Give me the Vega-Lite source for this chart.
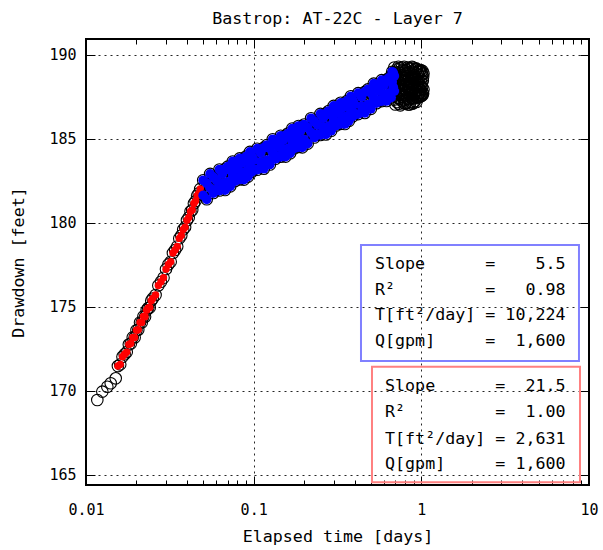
{
 "$schema": "https://vega.github.io/schema/vega-lite/v6.json",
 "width": 503, "height": 446,
 "autosize": {"type": "none"},
 "padding": {"left": 86, "top": 39, "right": 14, "bottom": 65},
 "background": "white",
 "title": {"text": "Bastrop: AT-22C - Layer 7", "font": "DejaVu Sans Mono", "fontSize": 16.67, "fontWeight": "normal", "color": "#000", "anchor": "middle", "baseline": "alphabetic", "offset": -2},
 "config": {
  "view": {"stroke": "#000", "strokeWidth": 2},
  "font": "DejaVu Sans Mono",
  "axis": {"labelFont": "DejaVu Sans Mono", "titleFont": "DejaVu Sans Mono", "labelColor": "#000", "titleColor": "#000", "titleFontWeight": "normal", "tickColor": "#000", "tickWidth": 1, "domain": false, "gridColor": "#000", "gridDash": [2, 4], "gridWidth": 1, "gridOpacity": 0.85, "labelFontSize": 15, "titleFontSize": 16.67, "labelFlush": false, "labelOverlap": false}
 },
 "datasets": {
  "pts": [
   {"t":0.01168,"d":169.46,"g":"o"},{"t":0.01251,"d":169.96,"g":"o"},{"t":0.0134,"d":170.25,"g":"o"},{"t":0.01404,"d":170.46,"g":"o"},{"t":0.01504,"d":170.75,"g":"o"},
   {"t":0.0155,"d":171.48,"g":"e"},{"t":0.016,"d":171.58,"g":"e"},{"t":0.0165,"d":172.03,"g":"e"},{"t":0.017,"d":172.18,"g":"e"},{"t":0.0175,"d":172.31,"g":"e"},
   {"t":0.018,"d":172.76,"g":"e"},{"t":0.0185,"d":172.82,"g":"e"},{"t":0.019,"d":173.19,"g":"e"},{"t":0.0195,"d":173.18,"g":"e"},{"t":0.02,"d":173.61,"g":"e"},
   {"t":0.0205,"d":173.64,"g":"e"},{"t":0.021,"d":174.07,"g":"e"},{"t":0.0215,"d":174.07,"g":"e"},{"t":0.022,"d":174.44,"g":"e"},{"t":0.0225,"d":174.42,"g":"e"},
   {"t":0.023,"d":174.81,"g":"e"},{"t":0.0235,"d":174.94,"g":"e"},{"t":0.024,"d":174.97,"g":"e"},{"t":0.0245,"d":175.37,"g":"e"},{"t":0.025,"d":175.5,"g":"e"},
   {"t":0.026,"d":175.71,"g":"e"},{"t":0.027,"d":176.28,"g":"e"},{"t":0.028,"d":176.5,"g":"e"},{"t":0.029,"d":176.74,"g":"e"},{"t":0.03,"d":177.25,"g":"e"},
   {"t":0.031,"d":177.53,"g":"e"},{"t":0.032,"d":177.69,"g":"e"},{"t":0.033,"d":178.21,"g":"e"},{"t":0.034,"d":178.39,"g":"e"},{"t":0.035,"d":178.6,"g":"e"},
   {"t":0.036,"d":179.08,"g":"e"},{"t":0.037,"d":179.25,"g":"e"},{"t":0.038,"d":179.61,"g":"e"},{"t":0.039,"d":179.75,"g":"e"},{"t":0.04,"d":180.16,"g":"e"},
   {"t":0.041,"d":180.32,"g":"e"},{"t":0.042,"d":180.68,"g":"e"},{"t":0.043,"d":180.77,"g":"e"},{"t":0.044,"d":181.16,"g":"e"},{"t":0.045,"d":181.3,"g":"e"},
   {"t":0.046,"d":181.62,"g":"e"},{"t":0.047,"d":181.76,"g":"e"},{"t":0.048,"d":182.03,"g":"e"},
   {"t":0.05,"d":182.54,"g":"l"},{"t":0.05,"d":181.64,"g":"l"},{"t":0.0525,"d":182.36,"g":"l"},{"t":0.0525,"d":181.41,"g":"l"},
   {"t":0.055,"d":182.92,"g":"l"},{"t":0.055,"d":182.07,"g":"l"},{"t":0.0575,"d":182.73,"g":"l"},{"t":0.0575,"d":181.78,"g":"l"},
   {"t":0.06,"d":182.53,"g":"l"},{"t":0.06,"d":181.98,"g":"l"},{"t":0.0625,"d":183.18,"g":"l"},{"t":0.0625,"d":181.93,"g":"l"},
   {"t":0.065,"d":182.92,"g":"l"},{"t":0.065,"d":182.37,"g":"l"},{"t":0.0675,"d":183.21,"g":"l"},{"t":0.0675,"d":181.96,"g":"l"},
   {"t":0.07,"d":183.35,"g":"l"},{"t":0.07,"d":182.45,"g":"l"},{"t":0.0725,"d":183.13,"g":"l"},{"t":0.0725,"d":182.18,"g":"l"},
   {"t":0.075,"d":183.66,"g":"l"},{"t":0.075,"d":182.81,"g":"l"},{"t":0.0775,"d":183.44,"g":"l"},{"t":0.0775,"d":182.49,"g":"l"},
   {"t":0.08,"d":183.22,"g":"l"},{"t":0.08,"d":182.67,"g":"l"},{"t":0.0825,"d":183.84,"g":"l"},{"t":0.0825,"d":182.59,"g":"l"},
   {"t":0.085,"d":183.56,"g":"l"},{"t":0.085,"d":183.01,"g":"l"},{"t":0.0875,"d":183.83,"g":"l"},{"t":0.0875,"d":182.58,"g":"l"},
   {"t":0.09,"d":183.95,"g":"l"},{"t":0.09,"d":183.05,"g":"l"},{"t":0.0925,"d":183.71,"g":"l"},{"t":0.0925,"d":182.76,"g":"l"},
   {"t":0.095,"d":184.23,"g":"l"},{"t":0.095,"d":183.38,"g":"l"},{"t":0.0975,"d":183.99,"g":"l"},{"t":0.0975,"d":183.04,"g":"l"},
   {"t":0.1,"d":183.75,"g":"l"},{"t":0.1,"d":183.2,"g":"l"},{"t":0.105,"d":184.42,"g":"l"},{"t":0.105,"d":183.17,"g":"l"},
   {"t":0.11,"d":184.18,"g":"l"},{"t":0.11,"d":183.63,"g":"l"},{"t":0.115,"d":184.48,"g":"l"},{"t":0.115,"d":183.23,"g":"l"},
   {"t":0.12,"d":184.64,"g":"l"},{"t":0.12,"d":183.74,"g":"l"},{"t":0.125,"d":184.43,"g":"l"},{"t":0.125,"d":183.48,"g":"l"},
   {"t":0.13,"d":184.98,"g":"l"},{"t":0.13,"d":184.13,"g":"l"},{"t":0.135,"d":184.77,"g":"l"},{"t":0.135,"d":183.82,"g":"l"},
   {"t":0.14,"d":184.55,"g":"l"},{"t":0.14,"d":184.0,"g":"l"},{"t":0.145,"d":185.19,"g":"l"},{"t":0.145,"d":183.94,"g":"l"},
   {"t":0.15,"d":184.92,"g":"l"},{"t":0.15,"d":184.37,"g":"l"},{"t":0.155,"d":185.2,"g":"l"},{"t":0.155,"d":183.95,"g":"l"},
   {"t":0.16,"d":185.32,"g":"l"},{"t":0.16,"d":184.42,"g":"l"},{"t":0.165,"d":185.1,"g":"l"},{"t":0.165,"d":184.15,"g":"l"},
   {"t":0.17,"d":185.62,"g":"l"},{"t":0.17,"d":184.77,"g":"l"},{"t":0.175,"d":185.39,"g":"l"},{"t":0.175,"d":184.44,"g":"l"},
   {"t":0.18,"d":185.15,"g":"l"},{"t":0.18,"d":184.6,"g":"l"},{"t":0.185,"d":185.77,"g":"l"},{"t":0.185,"d":184.52,"g":"l"},
   {"t":0.19,"d":185.48,"g":"l"},{"t":0.19,"d":184.93,"g":"l"},{"t":0.195,"d":185.75,"g":"l"},{"t":0.195,"d":184.5,"g":"l"},
   {"t":0.2,"d":185.86,"g":"l"},{"t":0.2,"d":184.96,"g":"l"},{"t":0.21,"d":185.67,"g":"l"},{"t":0.21,"d":184.72,"g":"l"},
   {"t":0.22,"d":186.23,"g":"l"},{"t":0.22,"d":185.38,"g":"l"},{"t":0.23,"d":186.04,"g":"l"},{"t":0.23,"d":185.09,"g":"l"},
   {"t":0.24,"d":185.84,"g":"l"},{"t":0.24,"d":185.29,"g":"l"},{"t":0.25,"d":186.49,"g":"l"},{"t":0.25,"d":185.24,"g":"l"},
   {"t":0.26,"d":186.23,"g":"l"},{"t":0.26,"d":185.68,"g":"l"},{"t":0.27,"d":186.52,"g":"l"},{"t":0.27,"d":185.27,"g":"l"},
   {"t":0.28,"d":186.66,"g":"l"},{"t":0.28,"d":185.76,"g":"l"},{"t":0.29,"d":186.44,"g":"l"},{"t":0.29,"d":185.49,"g":"l"},
   {"t":0.3,"d":186.97,"g":"l"},{"t":0.3,"d":186.12,"g":"l"},{"t":0.31,"d":186.75,"g":"l"},{"t":0.31,"d":185.8,"g":"l"},
   {"t":0.32,"d":186.53,"g":"l"},{"t":0.32,"d":185.98,"g":"l"},{"t":0.33,"d":187.15,"g":"l"},{"t":0.33,"d":185.9,"g":"l"},
   {"t":0.34,"d":186.87,"g":"l"},{"t":0.34,"d":186.32,"g":"l"},{"t":0.35,"d":187.14,"g":"l"},{"t":0.35,"d":185.89,"g":"l"},
   {"t":0.36,"d":187.26,"g":"l"},{"t":0.36,"d":186.36,"g":"l"},{"t":0.37,"d":187.03,"g":"l"},{"t":0.37,"d":186.08,"g":"l"},
   {"t":0.38,"d":187.54,"g":"l"},{"t":0.38,"d":186.69,"g":"l"},{"t":0.39,"d":187.3,"g":"l"},{"t":0.39,"d":186.35,"g":"l"},
   {"t":0.4,"d":187.06,"g":"l"},{"t":0.4,"d":186.51,"g":"l"},{"t":0.42,"d":187.73,"g":"l"},{"t":0.42,"d":186.48,"g":"l"},
   {"t":0.44,"d":187.49,"g":"l"},{"t":0.44,"d":186.94,"g":"l"},{"t":0.46,"d":187.8,"g":"l"},{"t":0.46,"d":186.55,"g":"l"},
   {"t":0.48,"d":187.95,"g":"l"},{"t":0.48,"d":187.05,"g":"l"},{"t":0.5,"d":187.74,"g":"l"},{"t":0.5,"d":186.79,"g":"l"},
   {"t":0.52,"d":188.29,"g":"l"},{"t":0.52,"d":187.44,"g":"l"},{"t":0.54,"d":188.08,"g":"l"},{"t":0.54,"d":187.13,"g":"l"},
   {"t":0.56,"d":187.87,"g":"l"},{"t":0.56,"d":187.32,"g":"l"},{"t":0.58,"d":188.5,"g":"l"},{"t":0.58,"d":187.25,"g":"l"},
   {"t":0.6,"d":188.23,"g":"l"},{"t":0.6,"d":187.68,"g":"l"},{"t":0.62,"d":188.51,"g":"l"},{"t":0.62,"d":187.26,"g":"l"},
   {"t":0.64,"d":188.63,"g":"l"},{"t":0.64,"d":187.73,"g":"l"},{"t":0.66,"d":188.41,"g":"l"},{"t":0.66,"d":187.46,"g":"l"},
   {"t":0.67,"d":189.0,"g":"l"},{"t":0.67,"d":188.4,"g":"l"},{"t":0.68,"d":188.93,"g":"l"},{"t":0.68,"d":188.08,"g":"l"},
   {"t":0.69,"d":188.75,"g":"l"},{"t":0.69,"d":187.85,"g":"l"},
   {"t":0.69,"d":189.25,"g":"o"},{"t":0.69,"d":187.35,"g":"o"},{"t":0.695,"d":188.55,"g":"o"},{"t":0.695,"d":187.9,"g":"o"},
   {"t":0.7,"d":189.0,"g":"o"},{"t":0.7,"d":187.05,"g":"o"},{"t":0.705,"d":188.3,"g":"o"},{"t":0.705,"d":187.6,"g":"o"},
   {"t":0.71,"d":188.85,"g":"o"},{"t":0.71,"d":188.1,"g":"o"},{"t":0.715,"d":189.15,"g":"o"},{"t":0.715,"d":187.2,"g":"o"},
   {"t":0.72,"d":188.45,"g":"o"},{"t":0.72,"d":187.75,"g":"o"},{"t":0.725,"d":188.7,"g":"o"},{"t":0.725,"d":187.45,"g":"o"},
   {"t":0.73,"d":189.3,"g":"o"},{"t":0.73,"d":187.95,"g":"o"},{"t":0.735,"d":188.2,"g":"o"},{"t":0.735,"d":187.1,"g":"o"},
   {"t":0.74,"d":189.2,"g":"o"},{"t":0.74,"d":187.4,"g":"o"},{"t":0.745,"d":188.6,"g":"o"},{"t":0.745,"d":187.85,"g":"o"},
   {"t":0.75,"d":188.95,"g":"o"},{"t":0.75,"d":187.0,"g":"o"},{"t":0.755,"d":188.35,"g":"o"},{"t":0.755,"d":187.65,"g":"o"},
   {"t":0.76,"d":188.8,"g":"o"},{"t":0.76,"d":188.05,"g":"o"},{"t":0.765,"d":189.25,"g":"o"},{"t":0.765,"d":187.25,"g":"o"},
   {"t":0.77,"d":188.5,"g":"o"},{"t":0.77,"d":187.7,"g":"o"},{"t":0.775,"d":188.65,"g":"o"},{"t":0.775,"d":187.5,"g":"o"},
   {"t":0.78,"d":189.1,"g":"o"},{"t":0.78,"d":187.9,"g":"o"},{"t":0.785,"d":188.25,"g":"o"},{"t":0.785,"d":187.15,"g":"o"},
   {"t":0.79,"d":189.3,"g":"o"},{"t":0.79,"d":187.3,"g":"o"},{"t":0.795,"d":188.5,"g":"o"},{"t":0.795,"d":187.95,"g":"o"},
   {"t":0.8,"d":189.05,"g":"o"},{"t":0.8,"d":187.1,"g":"o"},{"t":0.805,"d":188.25,"g":"o"},{"t":0.805,"d":187.55,"g":"o"},
   {"t":0.81,"d":188.9,"g":"o"},{"t":0.81,"d":188.15,"g":"o"},{"t":0.815,"d":189.1,"g":"o"},{"t":0.815,"d":187.15,"g":"o"},
   {"t":0.82,"d":188.4,"g":"o"},{"t":0.82,"d":187.8,"g":"o"},{"t":0.825,"d":188.75,"g":"o"},{"t":0.825,"d":187.4,"g":"o"},
   {"t":0.83,"d":189.25,"g":"o"},{"t":0.83,"d":188.0,"g":"o"},{"t":0.835,"d":188.15,"g":"o"},{"t":0.835,"d":187.05,"g":"o"},
   {"t":0.84,"d":189.2,"g":"o"},{"t":0.84,"d":187.35,"g":"o"},{"t":0.845,"d":188.6,"g":"o"},{"t":0.845,"d":187.9,"g":"o"},
   {"t":0.85,"d":189.0,"g":"o"},{"t":0.85,"d":187.05,"g":"o"},{"t":0.855,"d":188.35,"g":"o"},{"t":0.855,"d":187.6,"g":"o"},
   {"t":0.86,"d":188.85,"g":"o"},{"t":0.86,"d":188.1,"g":"o"},{"t":0.865,"d":189.2,"g":"o"},{"t":0.865,"d":187.2,"g":"o"},
   {"t":0.87,"d":188.45,"g":"o"},{"t":0.87,"d":187.75,"g":"o"},{"t":0.875,"d":188.7,"g":"o"},{"t":0.875,"d":187.45,"g":"o"},
   {"t":0.88,"d":189.3,"g":"o"},{"t":0.88,"d":187.95,"g":"o"},{"t":0.885,"d":188.2,"g":"o"},{"t":0.885,"d":187.1,"g":"o"},
   {"t":0.89,"d":189.25,"g":"o"},{"t":0.89,"d":187.4,"g":"o"},{"t":0.895,"d":188.55,"g":"o"},{"t":0.895,"d":187.85,"g":"o"},
   {"t":0.9,"d":188.95,"g":"o"},{"t":0.9,"d":187.15,"g":"o"},{"t":0.905,"d":188.3,"g":"o"},{"t":0.905,"d":187.65,"g":"o"},
   {"t":0.91,"d":188.8,"g":"o"},{"t":0.91,"d":188.05,"g":"o"},{"t":0.915,"d":189.15,"g":"o"},{"t":0.915,"d":187.25,"g":"o"},
   {"t":0.92,"d":188.5,"g":"o"},{"t":0.92,"d":187.7,"g":"o"},{"t":0.925,"d":188.65,"g":"o"},{"t":0.925,"d":187.5,"g":"o"},
   {"t":0.93,"d":189.2,"g":"o"},{"t":0.93,"d":187.9,"g":"o"},{"t":0.935,"d":188.25,"g":"o"},{"t":0.935,"d":187.2,"g":"o"},
   {"t":0.94,"d":189.15,"g":"o"},{"t":0.94,"d":187.45,"g":"o"},{"t":0.945,"d":188.55,"g":"o"},{"t":0.945,"d":187.9,"g":"o"},
   {"t":0.95,"d":189.0,"g":"o"},{"t":0.95,"d":187.5,"g":"o"},{"t":0.955,"d":188.3,"g":"o"},{"t":0.955,"d":187.6,"g":"o"},
   {"t":0.96,"d":188.85,"g":"o"},{"t":0.96,"d":188.1,"g":"o"},{"t":0.965,"d":189.1,"g":"o"},{"t":0.965,"d":187.55,"g":"o"},
   {"t":0.97,"d":188.45,"g":"o"},{"t":0.97,"d":187.75,"g":"o"},{"t":0.975,"d":188.7,"g":"o"},{"t":0.975,"d":187.5,"g":"o"},
   {"t":0.98,"d":189.05,"g":"o"},{"t":0.98,"d":187.95,"g":"o"},{"t":0.985,"d":188.2,"g":"o"},{"t":0.985,"d":187.55,"g":"o"},
   {"t":0.99,"d":189.1,"g":"o"},{"t":0.99,"d":187.6,"g":"o"},{"t":0.995,"d":188.55,"g":"o"},{"t":0.995,"d":187.9,"g":"o"},
   {"t":1.0,"d":189.0,"g":"o"},{"t":1.0,"d":187.55,"g":"o"},{"t":1.005,"d":188.3,"g":"o"},{"t":1.005,"d":187.65,"g":"o"},
   {"t":1.01,"d":188.85,"g":"o"},{"t":1.01,"d":188.1,"g":"o"},{"t":1.015,"d":189.05,"g":"o"},{"t":1.015,"d":187.6,"g":"o"},
   {"t":1.02,"d":188.45,"g":"o"},{"t":1.02,"d":187.75,"g":"o"},{"t":1.025,"d":188.7,"g":"o"},{"t":1.025,"d":187.7,"g":"o"},
   {"t":1.03,"d":188.9,"g":"o"},{"t":1.03,"d":187.95,"g":"o"}
  ],
  "boxes": [
   {"box":"late fit","x1":0.4366,"x2":8.714,"y1":178.69,"y2":171.78},
   {"box":"early fit","x1":0.5078,"x2":8.836,"y1":171.44,"y2":164.56}
  ],
  "notes": [
   {"t":0.5292,"d":177.26,"line":"Slope\u00a0\u00a0\u00a0\u00a0\u00a0\u00a0=\u00a0\u00a0\u00a0\u00a05.5"},
   {"t":0.5292,"d":175.71,"line":"R²\u00a0\u00a0\u00a0\u00a0\u00a0\u00a0\u00a0\u00a0\u00a0=\u00a0\u00a0\u00a00.98"},
   {"t":0.5292,"d":174.2,"line":"T[ft²/day]\u00a0=\u00a010,224"},
   {"t":0.5292,"d":172.66,"line":"Q[gpm]\u00a0\u00a0\u00a0\u00a0\u00a0=\u00a0\u00a01,600"},
   {"t":0.6074,"d":169.98,"line":"Slope\u00a0\u00a0\u00a0\u00a0\u00a0\u00a0=\u00a0\u00a021.5"},
   {"t":0.6074,"d":168.45,"line":"R²\u00a0\u00a0\u00a0\u00a0\u00a0\u00a0\u00a0\u00a0\u00a0=\u00a0\u00a01.00"},
   {"t":0.6074,"d":166.84,"line":"T[ft²/day]\u00a0=\u00a02,631"},
   {"t":0.6074,"d":165.35,"line":"Q[gpm]\u00a0\u00a0\u00a0\u00a0\u00a0=\u00a01,600"}
  ]
 },
 "layer": [
  {
   "data": {"name": "pts"},
   "mark": {"type": "point", "shape": "circle", "filled": false, "size": 133, "stroke": "#000", "strokeWidth": 1.1, "opacity": 1},
   "encoding": {
    "x": {"field": "t", "type": "quantitative", "scale": {"type": "log", "domain": [0.01, 10], "nice": false},
      "axis": {"orient": "bottom", "values": [0.01, 0.1, 1, 10], "format": "~g", "grid": true, "tickSize": -9, "labelPadding": 26, "title": "Elapsed time [days]", "titlePadding": 11}},
    "y": {"field": "d", "type": "quantitative", "scale": {"domain": [164.4, 190.95], "nice": false, "zero": false},
      "axis": {"orient": "left", "values": [165, 170, 175, 180, 185, 190], "grid": true, "tickSize": -9, "labelPadding": 19, "title": "Drawdown [feet]", "titlePadding": 21}}
   }
  },
  {
   "data": {"name": "pts"},
   "transform": [{"filter": "datum.g == 'e'"}],
   "mark": {"type": "point", "shape": "circle", "filled": true, "size": 55, "color": "#ff0000", "opacity": 1},
   "encoding": {
    "x": {"field": "t", "type": "quantitative", "scale": {"type": "log", "domain": [0.01, 10], "nice": false},
      "axis": {"orient": "bottom", "values": [0.02,0.03,0.04,0.05,0.06,0.07,0.08,0.09,0.2,0.3,0.4,0.5,0.6,0.7,0.8,0.9,2,3,4,5,6,7,8,9], "labels": false, "grid": false, "ticks": true, "tickSize": -5, "title": null}},
    "y": {"field": "d", "type": "quantitative", "scale": {"domain": [164.4, 190.95], "nice": false, "zero": false},
      "axis": {"orient": "right", "values": [165, 170, 175, 180, 185, 190], "labels": false, "grid": false, "ticks": true, "tickSize": -9, "title": null}}
   }
  },
  {
   "data": {"name": "pts"},
   "transform": [{"filter": "datum.g == 'l'"}],
   "mark": {"type": "point", "shape": "circle", "filled": true, "size": 95, "color": "#0000ff", "opacity": 1},
   "encoding": {
    "x": {"field": "t", "type": "quantitative", "scale": {"type": "log", "domain": [0.01, 10], "nice": false},
      "axis": {"orient": "top", "values": [0.01, 0.1, 1, 10], "labels": false, "grid": false, "ticks": true, "tickSize": -9, "title": null}},
    "y": {"field": "d", "type": "quantitative", "scale": {"domain": [164.4, 190.95], "nice": false, "zero": false}, "axis": null}
   }
  },
  {
   "data": {"name": "boxes"},
   "mark": {"type": "rect", "filled": false, "strokeWidth": 2},
   "encoding": {
    "x": {"field": "x1", "type": "quantitative", "scale": {"type": "log", "domain": [0.01, 10], "nice": false},
      "axis": {"orient": "top", "values": [0.02,0.03,0.04,0.05,0.06,0.07,0.08,0.09,0.2,0.3,0.4,0.5,0.6,0.7,0.8,0.9,2,3,4,5,6,7,8,9], "labels": false, "grid": false, "ticks": true, "tickSize": -5, "title": null}},
    "x2": {"field": "x2"},
    "y": {"field": "y1", "type": "quantitative", "scale": {"domain": [164.4, 190.95], "nice": false, "zero": false}, "axis": null},
    "y2": {"field": "y2"},
    "stroke": {"field": "box", "type": "nominal", "scale": {"domain": ["late fit", "early fit"], "range": ["#8080ff", "#ff8080"]}, "legend": null}
   }
  },
  {
   "data": {"name": "notes"},
   "mark": {"type": "text", "align": "left", "baseline": "alphabetic", "font": "DejaVu Sans Mono", "fontSize": 16.67, "color": "#000"},
   "encoding": {
    "x": {"field": "t", "type": "quantitative", "scale": {"type": "log", "domain": [0.01, 10], "nice": false}, "axis": null},
    "y": {"field": "d", "type": "quantitative", "scale": {"domain": [164.4, 190.95], "nice": false, "zero": false}, "axis": null},
    "text": {"field": "line"}
   }
  }
 ],
 "resolve": {"axis": {"x": "independent", "y": "independent"}}
}
